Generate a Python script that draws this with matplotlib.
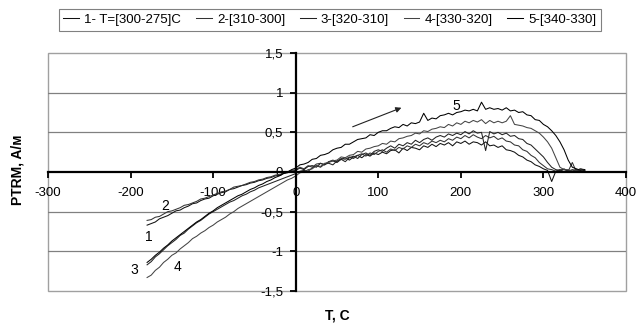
import matplotlib
matplotlib.use("Agg")
import matplotlib.pyplot as plt
from matplotlib.patches import Rectangle

plt.rcParams['font.family'] = ['Liberation Sans', 'DejaVu Sans']

# ---------------- data ----------------
T = list(range(-180, 351, 5))

curve1 = [-0.67, -0.65, -0.63, -0.59, -0.57, -0.55, -0.52, -0.49, -0.48, -0.45,
          -0.43, -0.40, -0.39, -0.36, -0.34, -0.33, -0.30, -0.28, -0.26, -0.25,
          -0.22, -0.21, -0.19, -0.17, -0.16, -0.14, -0.13, -0.11, -0.10, -0.08,
          -0.07, -0.05, -0.04, -0.02, -0.01, 0.01,
          0.02, 0.05, 0.03, 0.07, 0.08, 0.06, 0.11, 0.09, 0.13, 0.14,
          0.12, 0.16, 0.18, 0.15, 0.19, 0.21, 0.18, 0.22, 0.20, 0.24,
          0.22, 0.25, 0.23, 0.27, 0.28, 0.24, 0.30, 0.27, 0.31, 0.30,
          0.28, 0.33, 0.31, 0.35, 0.32, 0.36, 0.34, 0.37, 0.33, 0.38,
          0.36, 0.39, 0.35, 0.38, 0.37, 0.34, 0.38, 0.33, 0.34, 0.31,
          0.33, 0.28, 0.27, 0.25, 0.21, 0.19, 0.15, 0.13, 0.09, 0.07,
          0.04,
          0.02, -0.12, 0.01, 0.03, 0.00, 0.02, 0.01, 0.03, 0.00, 0.02]

curve2 = [-0.61, -0.60, -0.57, -0.56, -0.53, -0.50, -0.49, -0.47, -0.45, -0.42,
          -0.41, -0.39, -0.37, -0.34, -0.33, -0.31, -0.29, -0.27, -0.25, -0.24,
          -0.22, -0.19, -0.18, -0.17, -0.15, -0.13, -0.12, -0.10, -0.09, -0.07,
          -0.06, -0.04, -0.03, -0.02, 0.00, 0.02,
          0.03, 0.06, 0.04, 0.08, 0.06, 0.10, 0.11, 0.09, 0.13, 0.15,
          0.13, 0.17, 0.16, 0.19, 0.17, 0.21, 0.23, 0.20, 0.24, 0.22,
          0.26, 0.28, 0.25, 0.29, 0.27, 0.31, 0.29, 0.33, 0.31, 0.35,
          0.33, 0.37, 0.35, 0.39, 0.37, 0.40, 0.38, 0.42, 0.40, 0.44,
          0.42, 0.46, 0.43, 0.47, 0.44, 0.42, 0.46, 0.43, 0.45, 0.41,
          0.43, 0.39, 0.38, 0.34, 0.33, 0.28, 0.26, 0.21, 0.18, 0.12,
          0.08,
          0.04, 0.03, 0.01, 0.02, 0.03, 0.01, 0.12, 0.00, 0.03, 0.02]

curve3 = [-1.17, -1.13, -1.07, -1.03, -0.98, -0.93, -0.89, -0.85, -0.80, -0.77,
          -0.72, -0.68, -0.64, -0.61, -0.57, -0.53, -0.50, -0.47, -0.44, -0.41,
          -0.38, -0.36, -0.33, -0.30, -0.28, -0.25, -0.23, -0.20, -0.18, -0.16,
          -0.14, -0.12, -0.10, -0.08, -0.06, -0.04,
          -0.02, 0.01, 0.02, 0.01, 0.05, 0.08, 0.06, 0.10, 0.11, 0.09,
          0.14, 0.16, 0.13, 0.18, 0.20, 0.17, 0.22, 0.24, 0.21, 0.26,
          0.28, 0.26, 0.30, 0.33, 0.30, 0.35, 0.33, 0.37, 0.35, 0.40,
          0.37, 0.41, 0.43, 0.40, 0.44, 0.46, 0.44, 0.48, 0.46, 0.49,
          0.47, 0.51, 0.48, 0.52, 0.49, 0.50, 0.27, 0.51, 0.48, 0.50,
          0.47, 0.49, 0.45, 0.46, 0.42, 0.41, 0.36, 0.34, 0.29, 0.24,
          0.19,
          0.12, 0.06, 0.03, 0.02, 0.04, 0.01, 0.03, 0.02, 0.04, 0.02]

curve4 = [-1.33, -1.30, -1.24, -1.20, -1.14, -1.10, -1.05, -1.02, -0.97, -0.93,
          -0.89, -0.84, -0.81, -0.77, -0.74, -0.70, -0.67, -0.63, -0.60, -0.57,
          -0.53, -0.50, -0.46, -0.43, -0.40, -0.37, -0.34, -0.31, -0.28, -0.25,
          -0.22, -0.19, -0.16, -0.13, -0.10, -0.08,
          -0.05, -0.01, 0.00, 0.03, 0.04, 0.08, 0.07, 0.11, 0.12, 0.14,
          0.15, 0.19, 0.18, 0.21, 0.22, 0.26, 0.25, 0.29, 0.30, 0.32,
          0.33, 0.36, 0.35, 0.39, 0.38, 0.42, 0.43, 0.45, 0.46, 0.49,
          0.48, 0.52, 0.51, 0.54, 0.55, 0.57, 0.56, 0.60, 0.58, 0.62,
          0.60, 0.64, 0.62, 0.65, 0.63, 0.66, 0.61, 0.65, 0.62, 0.64,
          0.62, 0.64, 0.71, 0.60, 0.59, 0.58, 0.56, 0.55, 0.52, 0.49,
          0.44,
          0.38, 0.30, 0.18, 0.06, 0.03, 0.03, 0.01, 0.02, 0.04, 0.03]

curve5 = [-1.14, -1.10, -1.05, -1.01, -0.96, -0.92, -0.87, -0.83, -0.79, -0.75,
          -0.71, -0.67, -0.63, -0.60, -0.56, -0.52, -0.49, -0.45, -0.42, -0.39,
          -0.36, -0.33, -0.30, -0.28, -0.25, -0.22, -0.20, -0.17, -0.15, -0.12,
          -0.10, -0.07, -0.05, -0.02, 0.00, 0.03,
          0.05, 0.09, 0.10, 0.12, 0.16, 0.17, 0.21, 0.22, 0.24, 0.28,
          0.30, 0.31, 0.35, 0.35, 0.38, 0.41, 0.42, 0.43, 0.47, 0.46,
          0.50, 0.52, 0.52, 0.55, 0.57, 0.56, 0.60, 0.58, 0.62, 0.61,
          0.63, 0.74, 0.65, 0.68, 0.67, 0.71, 0.72, 0.74, 0.72, 0.75,
          0.76, 0.78, 0.77, 0.79, 0.77, 0.88, 0.79, 0.81, 0.79, 0.80,
          0.78, 0.81, 0.77, 0.78, 0.75, 0.76, 0.72, 0.71, 0.66, 0.65,
          0.60,
          0.57, 0.52, 0.46, 0.38, 0.28, 0.15, 0.06, 0.04, 0.02, 0.03]

series = [curve1, curve2, curve3, curve4, curve5]
legend_labels = ['1- T=[300-275]C', '2-[310-300]', '3-[320-310]', '4-[330-320]', '5-[340-330]']
line_colors = ['#111111', '#333333', '#222222', '#444444', '#000000']

x_ticks = [-300, -200, -100, 0, 100, 200, 300, 400]
y_ticks = [-1.5, -1, -0.5, 0, 0.5, 1, 1.5]
y_tick_labels = ['-1,5', '-1', '-0,5', '0', '0,5', '1', '1,5']

curve_tags = ['1', '2', '3', '4', '5']
tag_pos = [(-178, -0.82), (-158, -0.43), (-195, -1.24), (-143, -1.20), (195, 0.83)]

# ---------------- figure ----------------
fig = plt.figure(figsize=(6.41, 3.24), dpi=100)
ax = fig.add_axes([48/641, 1-291/324, (626-48)/641, (291-53)/324])

handles = []
for ys, lab, c in zip(series, legend_labels, line_colors):
    h, = ax.plot(T, ys, color=c, lw=0.75, label=lab, zorder=3)
    handles.append(h)

ax.set_xlim(-300, 400)
ax.set_ylim(-1.5, 1.5)

for y in [-1, -0.5, 0.5, 1]:
    ax.axhline(y, color='#808080', lw=0.9, zorder=1)

for s in ['top', 'right']:
    ax.spines[s].set_visible(False)
ax.spines['bottom'].set_position(('data', 0))
ax.spines['left'].set_position(('data', 0))
ax.spines['bottom'].set_linewidth(1.6)
ax.spines['left'].set_linewidth(1.6)
ax.spines['bottom'].set_zorder(4)
ax.spines['left'].set_zorder(4)

ax.add_patch(Rectangle((0, 0), 1, 1, transform=ax.transAxes, fill=False,
                       edgecolor='#a0a0a0', lw=1.0, clip_on=False, zorder=0))

ax.set_xticks(x_ticks)
ax.set_xticklabels([str(v) for v in x_ticks])
ax.set_yticks(y_ticks)
ax.set_yticklabels(y_tick_labels)
ax.tick_params(axis='x', direction='out', length=4, width=1.3, pad=7, labelsize=9.5)
ax.tick_params(axis='y', direction='out', length=4, width=1.3, pad=5, labelsize=9.5)

for t, (tx, ty) in zip(curve_tags, tag_pos):
    ax.text(tx, ty, t, fontsize=10, ha='center', va='center', zorder=5)

ax.annotate('', xy=(128, 0.81), xytext=(69, 0.57),
            arrowprops=dict(arrowstyle='-|>', color='#222222', lw=0.8,
                            mutation_scale=8, shrinkA=0, shrinkB=0))

leg = fig.legend(handles=handles, loc='center', bbox_to_anchor=(330/641, 1-20/324),
                 ncol=5, fontsize=9.5, frameon=True, fancybox=False,
                 handlelength=1.2, handletextpad=0.4, columnspacing=1.1,
                 borderpad=0.35, edgecolor='#606060')
leg.get_frame().set_linewidth(0.8)

fig.text(18/641, 1-170/324, 'PTRM, A/м', rotation=90, fontsize=10, fontweight='bold',
         ha='center', va='center')
fig.text(337/641, 1-316/324, 'T, C', fontsize=10, fontweight='bold',
         ha='center', va='center')

fig.savefig('out.png', dpi=100)
